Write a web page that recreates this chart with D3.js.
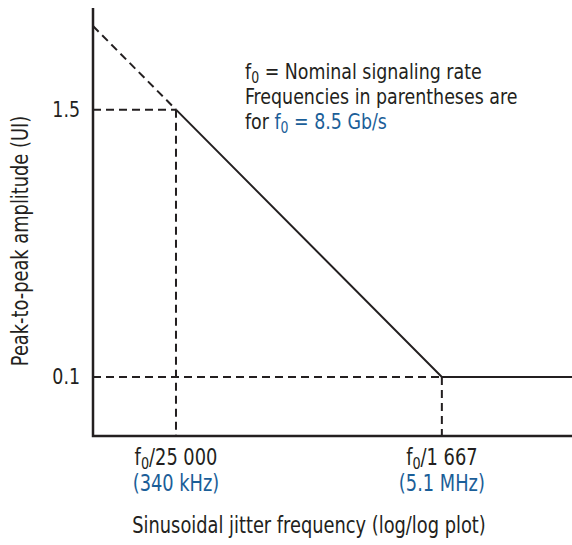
<!DOCTYPE html>
<html><head><meta charset="utf-8">
<script src="https://cdn.jsdelivr.net/npm/d3@7"></script>
<style>
body{margin:0;background:#fff;}
text{font-family:"DejaVu Sans Condensed","Liberation Sans Narrow",Roboto,sans-serif;fill:#231f20;}
</style></head><body>
<svg id="c" width="572" height="545"></svg>
<script>
// frequencies in Hz (for f0 = 8.5 Gb/s), amplitudes in UI
const breakFreqs = [340e3, 5.1e6];
const breakAmps = [1.5, 0.1];
const breakLabels = ["f0/25 000", "f0/1 667"];
const breakSubLabels = ["(340 kHz)", "(5.1 MHz)"];
const yTickValues = [1.5, 0.1];
const yTickLabels = ["1.5", "0.1"];
const extension = [{f: 146e3, a: 3.5}, {f: 340e3, a: 1.5}];
const solid = [{f: 340e3, a: 1.5}, {f: 5.1e6, a: 0.1}, {f: 19.2e6, a: 0.1}];
const xDomain = [146e3, 19.2e6];
const yDomain = [0.055, 4.2];
const blue = "#1b5e98";
const ink = "#231f20";
const SX = 0.88;

const svg = d3.select("#c");
const x = d3.scaleLog().domain(xDomain).range([93, 572]);
const y = d3.scaleLog().domain(yDomain).range([436, 8]);
const line = d3.line().x(d => x(d.f)).y(d => y(d.a));

function txt(px, py, size, anchor, rot) {
  return svg.append("text")
    .attr("transform", `translate(${px},${py})${rot ? " rotate(" + rot + ")" : ""} scale(${SX},1)`)
    .attr("text-anchor", anchor || "start").attr("font-size", size);
}

// dashed guides
const dash = "8,5";
breakFreqs.forEach((f, i) => {
  svg.append("line").attr("x1", x(xDomain[0])).attr("x2", x(f))
    .attr("y1", y(breakAmps[i])).attr("y2", y(breakAmps[i]))
    .attr("stroke", ink).attr("stroke-width", 2).attr("stroke-dasharray", dash);
  svg.append("line").attr("x1", x(f)).attr("x2", x(f))
    .attr("y1", y(breakAmps[i])).attr("y2", y(yDomain[0]))
    .attr("stroke", ink).attr("stroke-width", 2).attr("stroke-dasharray", dash);
});
svg.append("path").datum(extension).attr("d", line).attr("fill", "none")
  .attr("stroke", ink).attr("stroke-width", 2).attr("stroke-dasharray", dash);
svg.append("path").datum(solid).attr("d", line).attr("fill", "none")
  .attr("stroke", ink).attr("stroke-width", 2);

// axes lines
svg.append("path").attr("d", `M${x(xDomain[0])},${y(yDomain[1])}V${y(yDomain[0])}H${x(xDomain[1])}`)
  .attr("fill", "none").attr("stroke", ink).attr("stroke-width", 2.5);

// y tick labels
yTickValues.forEach((v, i) => {
  txt(80, y(v) + 7.5, 22, "end").text(yTickLabels[i]);
});

// x labels
function fLabel(sel, rest, color) {
  sel.append("tspan").text("f").style("fill", color);
  sel.append("tspan").text("0").attr("font-size", "0.72em").attr("dy", 4).style("fill", color);
  sel.append("tspan").text(rest).attr("dy", -4).style("fill", color);
}
breakFreqs.forEach((f, i) => {
  const t = txt(x(f), 465, 22.5, "middle");
  fLabel(t, breakLabels[i].slice(2), ink);
  txt(x(f), 491, 22.5, "middle").style("fill", blue).text(breakSubLabels[i]);
});

txt(309, 533, 22.5, "middle").text("Sinusoidal jitter frequency (log/log plot)");
txt(28, 241, 22.5, "middle", -90).text("Peak-to-peak amplitude (UI)");

// note
const n1 = txt(245, 79, 22);
fLabel(n1, " = Nominal signaling rate", ink);
txt(245, 104, 22).text("Frequencies in parentheses are");
const n3 = txt(245, 129, 22);
n3.append("tspan").text("for ");
fLabel(n3, " = 8.5 Gb/s", blue);
</script></body></html>
